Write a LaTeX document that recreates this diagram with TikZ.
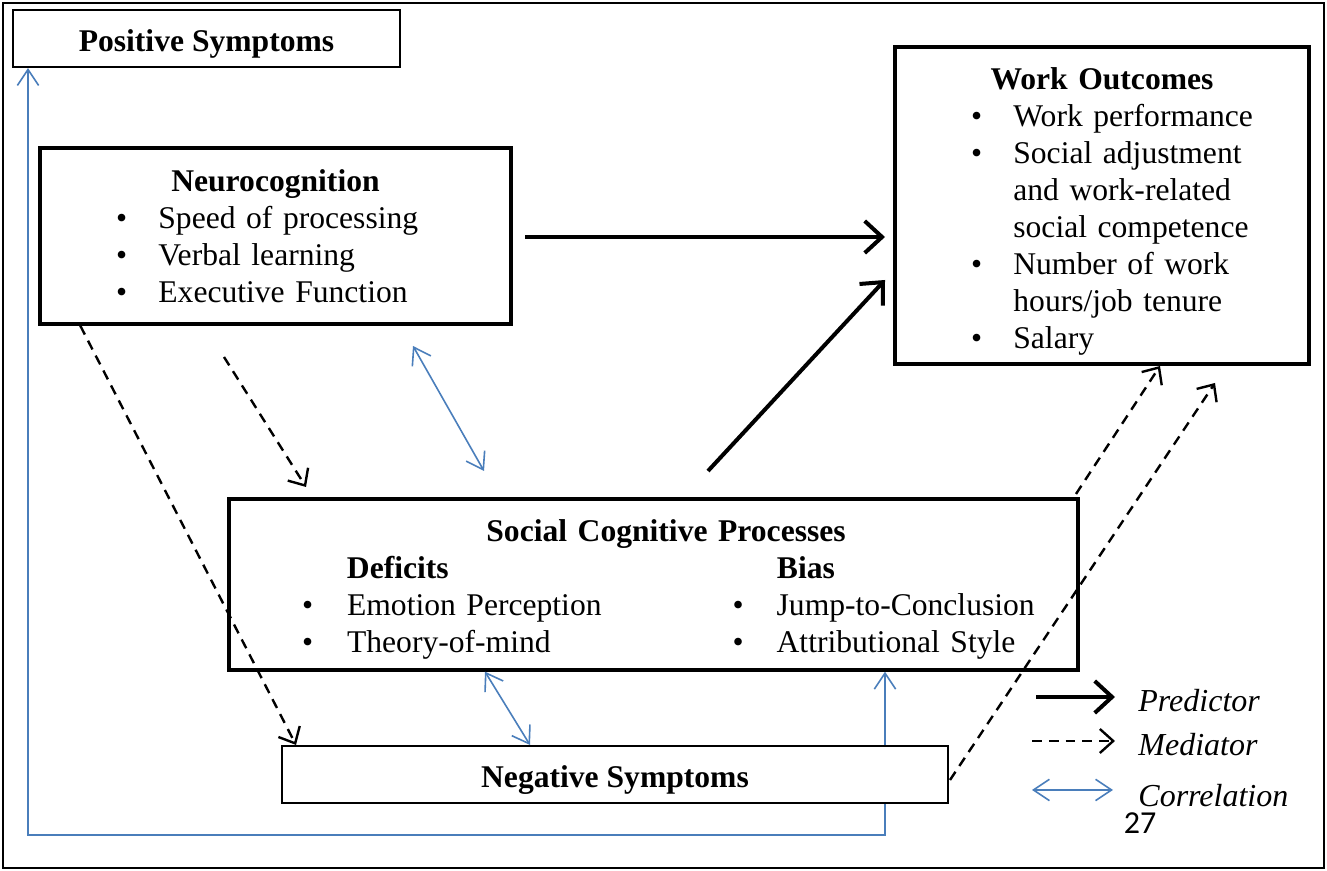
\documentclass[tikz,border=0pt]{standalone}
\usepackage{fontspec}
\setmainfont{Liberation Serif}
\newfontfamily\pagenofont{Carlito}
\usetikzlibrary{arrows.meta, calc, backgrounds}
\definecolor{corrblue}{HTML}{4A7EBB}

% helpers for the bullet lists inside the boxes
\newcommand{\boxhead}[1]{\makebox[\linewidth]{\textbf{#1}}}
\newcommand{\itm}[1]{\hspace*{28.5pt}\makebox[15.9pt][l]{\textbullet}#1}
\newcommand{\cont}[1]{\hspace*{44.4pt}#1}
\newcommand{\twoitm}[2]{\hspace*{27.4pt}\makebox[16.9pt][l]{\textbullet}\makebox[144.6pt][l]{#1}\makebox[16.5pt][l]{\textbullet}#2}

\begin{document}
\begin{tikzpicture}[
    x=0.375pt, y=-0.375pt,
    every node/.style={font=\fontsize{11.85}{13.9}\selectfont},
    thinbox/.style={rectangle, draw, line width=0.75pt, fill=white, inner sep=0pt,
                    minimum height=21.4pt, text height=11pt, text depth=1pt},
    thickbox/.style={rectangle, draw, line width=1.3pt, fill=white, inner sep=0pt},
    boxtext/.style={inner sep=0pt, align=left},
    pred/.style={-{Straight Barb[length=6.5pt, width=12pt]}, line width=1.5pt},
    medi/.style={-{Straight Barb[length=5pt, width=9pt]}, line width=0.9pt,
                 dash pattern=on 3.7pt off 2.6pt},
    corr/.style={{Straight Barb[length=6pt, width=8pt]}-{Straight Barb[length=6pt, width=8pt]},
                 draw=corrblue, line width=0.6pt},
    lbl/.style={font=\fontsize{12}{13.9}\selectfont\itshape, anchor=west}
]
    \useasboundingbox (0,0) rectangle (1327,871);
    \draw[line width=1pt] (3,3) rectangle (1324,868);

    % boxes
    \node[thinbox, minimum width=145.1pt] (pos) at (206.5,38.5) {\textbf{Positive Symptoms}};
    \node[thickbox, minimum width=176.6pt, minimum height=66pt] (neuro) at (275.5,236) {};
    \node[thickbox, minimum width=155.25pt, minimum height=118.9pt] (work) at (1102,205.5) {};
    \node[thickbox, minimum width=318.4pt, minimum height=64.1pt] (social) at (653.5,584.5) {};
    \node[thinbox, minimum width=249.75pt] (neg) at (615,774.5) {\textbf{Negative Symptoms}};

    % box contents
    \node[boxtext, text width=176.6pt] (neurotxt) at (neuro.center) {%
        \boxhead{Neurocognition}\\
        \itm{Speed of processing}\\
        \itm{Verbal learning}\\
        \itm{Executive Function}};
    \node[boxtext, text width=155.25pt, yshift=-2.25pt] (worktxt) at (work.center) {%
        \boxhead{Work Outcomes}\\
        \itm{Work performance}\\
        \itm{Social adjustment}\\
        \cont{and work-related}\\
        \cont{social competence}\\
        \itm{Number of work}\\
        \cont{hours/job tenure}\\
        \itm{Salary}};
    \node[boxtext, text width=318.4pt, yshift=-1.9pt] (socialtxt) at (social.center) {%
        \makebox[\linewidth]{\hspace{9.4pt}\textbf{Social Cognitive Processes}}\\
        \hspace*{44.25pt}\makebox[161.25pt][l]{\textbf{Deficits}}\textbf{Bias}\\
        \twoitm{Emotion Perception}{Jump-to-Conclusion}\\
        \twoitm{Theory-of-mind}{Attributional Style}};

    % free ends of the connectors
    \coordinate (n2wA) at (525,237);
    \coordinate (n2wB) at (885,237);
    \coordinate (s2wA) at (708,471);
    \coordinate (s2wB) at (885,280);
    \coordinate (n2sA) at (224,357);
    \coordinate (n2sB) at (306,487);
    \coordinate (nsA) at (413,346);
    \coordinate (nsB) at (484,471);
    \coordinate (sw2A) at (1076,494);
    \coordinate (sw2B) at (1160,366);
    \coordinate (g2wA) at (950,780);
    \coordinate (g2wB) at (1215,383);
    \coordinate (loopL) at (28,835);
    \coordinate (loopR) at (885,835);

    % predictors
    \draw[pred] (n2wA) -- (n2wB);
    \draw[pred] (s2wA) -- (s2wB);

    % mediators
    \draw[medi] (n2sA) -- (n2sB);
    \draw[medi] ($(neuro.south west)+(42,0)$) -- ($(neg.north west)+(15,0)$);
    \draw[medi] (sw2A) -- (sw2B);
    \draw[medi] (g2wA) -- (g2wB);

    % correlations
    \draw[corr] (nsA) -- (nsB);
    \draw[corr] ($(social.south)+(-168.5,0)$) -- ($(neg.north)+(-85,0)$);
    \begin{scope}[on background layer]
        \draw[corr] (pos.south west -| loopL) -- (loopL) -- (loopR) -- (loopR |- social.south);
    \end{scope}

    % legend
    \coordinate (legP) at (1036,697);
    \coordinate (legM) at (1032,741);
    \coordinate (legC) at (1032,790);
    \draw[pred] (legP) -- +(79,0);
    \draw[medi] (legM) -- +(83,0);
    \draw[corr] (legC) -- +(81,0);
    \node[lbl] (predlbl) at (1129,701) {Predictor};
    \node[lbl] (medilbl) at (1129,745) {Mediator};
    \node[lbl] (corrlbl) at (1129,796) {Correlation};

    \node[font=\pagenofont\fontsize{12}{14}\selectfont] (pageno) at (1140,823) {27};
\end{tikzpicture}
\end{document}
